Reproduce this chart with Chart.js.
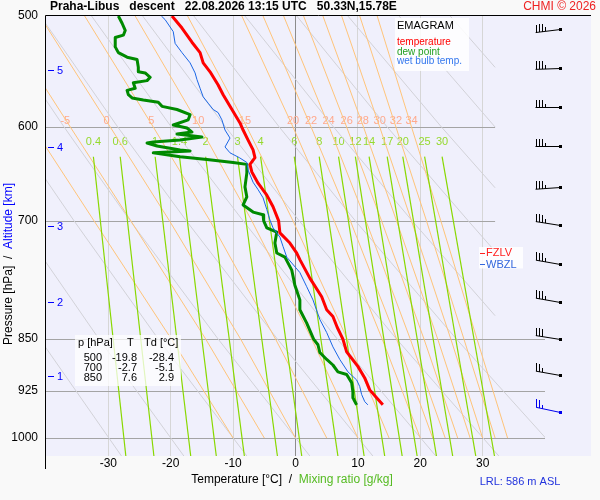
<!DOCTYPE html>
<html>
<head>
<meta charset="utf-8">
<script src="https://cdn.jsdelivr.net/npm/chart.js@4.4.1/dist/chart.umd.min.js"></script>
<style>
  html, body { margin: 0; padding: 0; background: #f9f9f9; }
  canvas { display: block; }
</style>
</head>
<body>
<canvas id="emagram" width="600" height="500"></canvas>
<script>
// Praha-Libus descent sounding, emagram (T vs log p)
const pTicks = [500, 600, 700, 850, 925, 1000];
const xTicks = [-30, -20, -10, 0, 10, 20, 30];

const tempP = [500,510,522,531,540,548,560,569,580,591,596,603,613,623,631,638,646,658,671,684,700,714,726,738,746,769,793,810,819,834,850,868,889,906,924,936,947];
const tempT = [-19.8,-18.2,-16.6,-15.3,-14.8,-13.7,-12.4,-11.6,-10.5,-9.4,-8.9,-8.4,-7.6,-6.8,-6.5,-7.3,-7.0,-6.0,-4.6,-3.6,-2.7,-2.5,-0.9,0.2,0.7,2.3,4.2,5.0,6.0,6.7,7.6,8.2,10.0,11.1,11.9,13.0,14.0];

const dewP = [500,506,512,516,518,526,531,535,537,544,548,549,553,556,558,563,565,569,572,574,576,580,583,588,593,598,601,605,607,610,613,615,616,619,623,624,626,630,633,636,638,647,662,673,682,690,693,700,708,713,726,738,743,759,778,797,810,828,850,858,869,879,887,897,901,913,927,936,947];
const dewT = [-28.4,-27.8,-27.3,-27.6,-28.9,-28.9,-28.4,-27.0,-25.4,-25.2,-25.2,-24.1,-23.3,-23.8,-26.0,-25.7,-27.0,-26.8,-26.2,-24.4,-22.0,-21.4,-19.0,-16.9,-17.2,-19.6,-17.4,-16.6,-19.0,-15.0,-18.5,-22.8,-23.8,-22.2,-18.5,-16.9,-22.8,-18.5,-14.2,-10.0,-7.8,-7.8,-8.1,-7.8,-8.4,-6.8,-5.2,-5.1,-4.6,-3.0,-3.3,-3.0,-1.7,-0.6,-0.1,0.7,0.7,1.8,2.9,3.6,3.9,5.0,6.0,6.8,8.2,9.0,9.2,9.2,9.8];

const wetP = [500,503,513,523,531,540,549,555,563,571,577,583,586,593,603,611,620,626,631,636,644,657,665,674,687,699,708,719,730,743,762,780,797,823,841,861,879,897,909,919,931,942,947];
const wetT = [-21.5,-20.9,-19.6,-19.3,-18.2,-16.9,-16.1,-15.8,-15.3,-14.8,-14.0,-13.2,-12.4,-11.8,-11.3,-10.5,-11.3,-10.5,-9.0,-7.8,-7.6,-6.8,-6.0,-5.2,-4.6,-4.1,-3.6,-2.5,-2.0,-1.4,0.7,1.8,2.8,3.9,5.0,6.0,7.1,8.4,9.8,10.3,10.6,11.1,11.6];

// mixing ratio lines [g/kg]: temperature where each line starts (630 hPa) and ends (1030 hPa)
const mixW = [0.4, 0.6, 1, 1.4, 2, 3, 4, 6, 8, 10, 12, 14, 17, 20, 25, 30];
const mixTopT = [-32.4,-28.1,-22.5,-18.6,-14.4,-9.3,-5.6,-0.2,3.8,6.9,9.6,11.8,14.7,17.2,20.7,23.5];
const mixBotT = [-27.2,-22.7,-16.8,-12.7,-8.2,-2.9,1.0,6.8,11.0,14.3,17.1,19.5,22.6,25.2,28.9,31.9];
const mixTopP = 630, mixBotP = 1030, mixLabelP = 615;

// saturated (pseudo) adiabats, labelled by wet-bulb potential temperature
const moistP = [1000, 850, 700, 600, 500];
const moistT = [
  [-10, -19.9, -32.3, -42.1, -53.4],
  [-5, -14.4, -26.4, -36.1, -47.5],
  [0, -8.8, -20.2, -29.7, -41.0],
  [5, -3.2, -13.7, -22.8, -33.8],
  [10, 2.6, -7.0, -15.3, -25.7],
  [15, 8.3, -0.4, -7.8, -17.3],
  [20, 13.9, 6.2, -0.4, -8.6],
  [22, 16.2, 8.8, 2.5, -5.2],
  [24, 18.4, 11.3, 5.4, -1.9],
  [26, 20.6, 13.8, 8.2, 1.3],
  [28, 22.8, 16.2, 10.9, 4.4],
  [30, 24.9, 18.6, 13.5, 7.4],
  [32, 27.0, 21.0, 16.1, 10.3],
  [34, 29.1, 23.3, 18.6, 13.1]
];
const moistLabel = ['-5','0','5','10','15','20','22','24','26','28','30','32','34'];
const moistLabelT = [-36.9,-30.3,-23.1,-15.6,-8.1,-0.4,2.5,5.3,8.2,10.8,13.5,16.1,18.6];
const moistLabelP = 594;

// dry adiabats, [T, p] points as drawn
const dryLines = [
  [[-27.9,1030],[-41.0,850]],
  [[-17.9,1030],[-31.5,850],[-44.6,700]],
  [[-7.8,1030],[-22.0,850],[-35.5,700],[-45.8,600]],
  [[2.3,1030],[-12.4,850],[-26.5,700],[-37.1,600],[-49.1,500]],
  [[12.4,1030],[-2.9,850],[-17.5,700],[-28.5,600],[-40.9,500]],
  [[22.5,1030],[6.7,850],[-8.4,700],[-19.9,600],[-32.7,500]],
  [[32.6,1030],[16.2,850],[0.6,700],[-11.2,600],[-24.5,500]],
  [[42.7,1030],[25.8,850],[9.6,700],[-2.6,600],[-16.3,500]],
  [[32.0,818],[18.7,700],[6.1,600],[-8.1,500]],
  [[32.0,736],[27.7,700],[14.7,600],[0.2,500]],
  [[32.0,663],[23.4,600],[8.4,500]],
  [[32.0,600],[16.6,500]],
  [[32.0,544],[24.8,500]]
];

const altKm = [1, 2, 3, 4, 5];
const altP = [903, 800, 706, 620, 546];

const windP = [511, 545, 581, 619, 662, 705, 752, 800, 850, 902, 958];
const windDir = [263, 268, 270, 270, 266, 279, 280, 280, 279, 280, 282];
const windKt = [35, 35, 35, 35, 35, 35, 35, 35, 30, 25, 25];

const tableP = [500, 700, 850];
const tableT = [-19.8, -2.7, 7.6];
const tableTd = [-28.4, -5.1, 2.9];

const fzlvP = 738, wbzlP = 752;

const FONT = "'Liberation Sans', Arial, sans-serif";

function txt(ctx, s, x, y, color, size, align = 'left', weight = 'normal') {
  ctx.font = `${weight} ${size}px ${FONT}`;
  ctx.fillStyle = color;
  ctx.textAlign = align;
  ctx.textBaseline = 'middle';
  ctx.fillText(s, x, y);
}

function multiText(ctx, segs, cx, cy, size) {
  ctx.font = `${size}px ${FONT}`;
  const total = segs.reduce((s, [t]) => s + ctx.measureText(t).width, 0);
  let x = cx - total / 2;
  segs.forEach(([t, c]) => {
    txt(ctx, t, x, cy, c, size);
    x += ctx.measureText(t).width;
  });
}

function drawBarb(ctx, x0, y0, dir, kt, color) {
  const a = dir * Math.PI / 180;
  const ux = Math.sin(a), uy = -Math.cos(a);
  const len = 25;
  x0 = Math.round(x0) + 0.5;
  y0 = Math.round(y0) + 0.5;
  ctx.strokeStyle = color;
  ctx.fillStyle = color;
  ctx.lineWidth = 1;
  ctx.beginPath();
  ctx.moveTo(x0, y0);
  ctx.lineTo(x0 + ux * len, y0 + uy * len);
  const full = Math.floor(kt / 10);
  const half = kt % 10 >= 5;
  let d = len;
  for (let i = 0; i <= full; i++, d -= 3) {
    if (i === full && !half) break;
    const h = i < full ? 8 : 4;
    const bx = Math.round(x0 + ux * d) + 0.5, by = Math.round(y0 + uy * d);
    ctx.moveTo(bx, by);
    ctx.lineTo(bx, by - h);
  }
  ctx.stroke();
  ctx.fillRect(x0 - 1.5, y0 - 1.5, 3, 3);
}

const emagramPlugin = {
  id: 'emagram',
  beforeDraw(chart) {
    const { ctx, chartArea: a } = chart;
    ctx.save();
    ctx.fillStyle = '#f9f9f9';
    ctx.fillRect(0, 0, chart.width, chart.height);
    ctx.fillStyle = '#f0f0fc';
    ctx.fillRect(a.left, a.top, a.right - a.left + 46, a.bottom - a.top);
    ctx.restore();
  },
  beforeDatasetsDraw(chart) {
    const { ctx, chartArea: a, scales: { x, y } } = chart;
    ctx.save();
    // isobars: upper ones stop at the 32 °C edge of the diagram
    ctx.strokeStyle = '#a4a4a4';
    ctx.lineWidth = 1;
    pTicks.slice(1).forEach(p => {
      const py = Math.round(y.getPixelForValue(p)) + 0.5;
      ctx.beginPath();
      ctx.moveTo(a.left, py);
      ctx.lineTo(p < 800 ? x.getPixelForValue(32) : a.right, py);
      ctx.stroke();
    });
    moistLabelT.forEach((t, i) =>
      txt(ctx, moistLabel[i], x.getPixelForValue(t), y.getPixelForValue(moistLabelP), '#ffa98c', 11, 'center'));
    mixW.forEach((w, i) =>
      txt(ctx, String(w), x.getPixelForValue(mixTopT[i]), y.getPixelForValue(mixLabelP), '#95d92e', 11, 'center'));
    ctx.restore();
  },
  afterDraw(chart) {
    const { ctx, chartArea: a, scales: { x, y } } = chart;
    ctx.save();

    // altitude marks
    ctx.strokeStyle = '#0000ff';
    ctx.lineWidth = 1;
    altKm.forEach((km, i) => {
      const py = Math.round(y.getPixelForValue(altP[i])) + 0.5;
      ctx.beginPath();
      ctx.moveTo(a.left + 2, py);
      ctx.lineTo(a.left + 8, py);
      ctx.stroke();
      txt(ctx, String(km), a.left + 11, py, '#0000ff', 11);
    });

    // legend box
    ctx.fillStyle = 'rgba(255,255,255,0.85)';
    ctx.fillRect(a.right - 150, a.top + 2, 74, 53);
    txt(ctx, 'EMAGRAM', a.right - 148, a.top + 10, '#000', 11);
    txt(ctx, 'temperature', a.right - 148, a.top + 26, '#ff0000', 10);
    txt(ctx, 'dew point', a.right - 148, a.top + 36, '#22a022', 10);
    txt(ctx, 'wet bulb temp.', a.right - 148, a.top + 45, '#3377ee', 10);

    // value table
    const tx = a.left + 29, ty = a.bottom - 121;
    ctx.fillStyle = 'rgba(255,255,255,0.75)';
    ctx.fillRect(tx, ty, 106, 51);
    txt(ctx, 'p [hPa]', tx + 3, ty + 8, '#000', 11);
    txt(ctx, 'T', tx + 52, ty + 8, '#000', 11);
    txt(ctx, 'Td [°C]', tx + 69, ty + 8, '#000', 11);
    tableP.forEach((p, i) => {
      const ry = ty + 23 + i * 10;
      txt(ctx, String(p), tx + 27, ry, '#000', 11, 'right');
      txt(ctx, tableT[i].toFixed(1), tx + 62, ry, '#000', 11, 'right');
      txt(ctx, tableTd[i].toFixed(1), tx + 99, ry, '#000', 11, 'right');
    });

    // freezing / wet-bulb zero levels
    const fy = y.getPixelForValue(fzlvP), wy = y.getPixelForValue(wbzlP);
    const fx = a.right - 66;
    ctx.fillStyle = 'rgba(255,255,255,0.85)';
    ctx.fillRect(fx, fy - 6, 44, wy - fy + 10);
    [[fy, 'FZLV', '#ff2020'], [wy, 'WBZL', '#3366dd']].forEach(([ly, s, c]) => {
      ctx.strokeStyle = c;
      ctx.beginPath();
      ctx.moveTo(fx + 1, Math.round(ly) + 0.5);
      ctx.lineTo(fx + 6, Math.round(ly) + 0.5);
      ctx.stroke();
      txt(ctx, s, fx + 7, ly, c, 11);
    });

    // wind barbs
    windP.forEach((p, i) => {
      const col = i === windP.length - 1 ? '#0000ee' : '#000';
      drawBarb(ctx, a.right + 15, y.getPixelForValue(p), windDir[i], windKt[i], col);
    });

    // frame
    ctx.strokeStyle = '#000';
    ctx.lineWidth = 1;
    ctx.beginPath();
    ctx.moveTo(a.left - 0.5, a.bottom + 13);
    ctx.lineTo(a.left - 0.5, a.top - 0.5);
    ctx.lineTo(a.right + 46, a.top - 0.5);
    ctx.stroke();

    // titles
    txt(ctx, 'Praha-Libus   descent   22.08.2026 13:15 UTC   50.33N,15.78E', 50, 7, '#000', 12, 'left', 'bold');
    txt(ctx, 'CHMI © 2026', 596, 7, '#ee2222', 12, 'right');
    multiText(ctx, [['Temperature [°C]', '#000'], ['  /  ', '#000'], ['Mixing ratio [g/kg]', '#55bb22']], 292, 480, 12);
    txt(ctx, 'LRL: 586 m ASL', 520, 482, '#2233dd', 11, 'center');

    ctx.translate(9, 264);
    ctx.rotate(-Math.PI / 2);
    multiText(ctx, [['Pressure [hPa]', '#000'], ['  /  ', '#000'], ['Altitude [km]', '#0000ff']], 0, 0, 12);
    ctx.restore();
  }
};

const line = (pts, color, width, order) => ({
  data: pts.map(([t, p]) => ({ x: t, y: p })),
  showLine: true,
  borderColor: color,
  borderWidth: width,
  borderJoinStyle: 'round',
  pointRadius: 0,
  fill: false,
  order
});

const datasets = [
  line(tempP.map((p, i) => [tempT[i], p]), '#ff0000', 3, 1),
  line(wetP.map((p, i) => [wetT[i], p]), '#1a66e6', 1, 2),
  line(dewP.map((p, i) => [dewT[i], p]), '#008a00', 3, 3),
  ...mixW.map((w, i) => ({ ...line([[mixTopT[i], mixTopP], [mixBotT[i], mixBotP]], '#88d800', 1.2, 5), clip: 0 })),
  ...moistT.map(row => ({ ...line(row.map((t, j) => [t, moistP[j]]), '#ffc47a', 1, 6), clip: 0 })),
  ...dryLines.map(pts => ({ ...line(pts, '#d2d2d8', 1, 7), clip: 0 }))
];

new Chart(document.getElementById('emagram'), {
  type: 'scatter',
  data: { datasets },
  options: {
    responsive: false,
    animation: false,
    events: [],
    layout: { padding: { top: 16, right: 55, left: 0, bottom: 0 } },
    plugins: { legend: { display: false }, tooltip: { enabled: false } },
    scales: {
      x: {
        type: 'linear', min: -40, max: 40,
        border: { display: false },
        grid: { color: c => (c.tick && c.tick.value === 0 ? '#8c8c8c' : '#d6d6d6'), drawTicks: false },
        ticks: { color: '#000', padding: 0, maxRotation: 0, autoSkip: false, font: { family: FONT, size: 12 } },
        afterBuildTicks: s => { s.ticks = xTicks.map(v => ({ value: v })); },
        afterFit: s => { s.height = 44; }
      },
      y: {
        type: 'logarithmic', min: 500, max: 1030, reverse: true, bounds: 'data',
        border: { display: false },
        grid: { display: false, drawTicks: false },
        ticks: { color: '#000', padding: 8, autoSkip: false, callback: v => String(v), font: { family: FONT, size: 12 } },
        afterBuildTicks: s => { s.ticks = pTicks.map(v => ({ value: v })); },
        afterFit: s => { s.width = 46; }
      }
    }
  },
  plugins: [emagramPlugin]
});
</script>
</body>
</html>
